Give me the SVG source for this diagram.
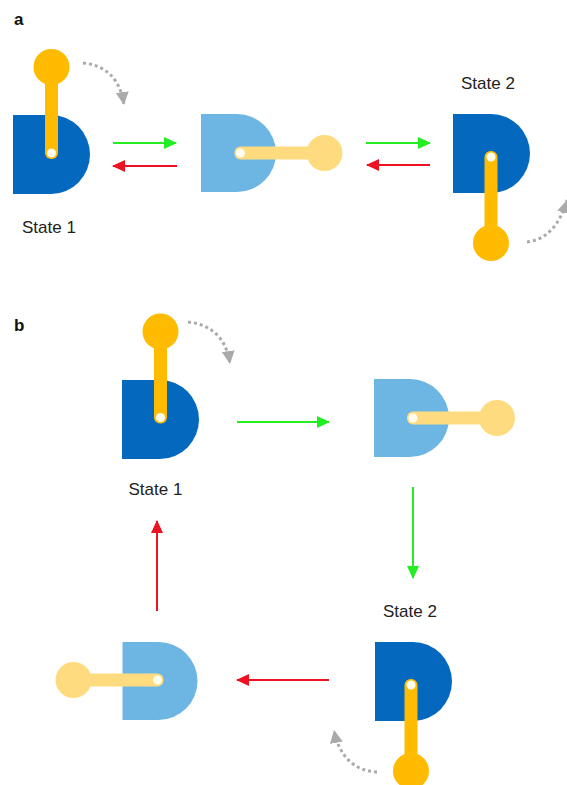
<svg xmlns="http://www.w3.org/2000/svg" width="567" height="785" viewBox="0 0 567 785">
<style>
text{font-family:"Liberation Sans",Arial,sans-serif;font-size:17px;fill:#222}
.p{font-weight:bold;font-size:17px;fill:#111}
.d{fill:#0468BF}.dl{fill:#6DB6E3}
.l{fill:#FFBB00}.ll{fill:#FFDB80}
.h{fill:#FFFDF0}
.g{stroke:#22EE22;stroke-width:2;fill:none}
.r{stroke:#EE1122;stroke-width:2;fill:none}
.y{stroke:#AAAAAA;stroke-width:3;stroke-dasharray:3 3;fill:none}
</style>
<defs>
<marker id="mg" markerUnits="userSpaceOnUse" markerWidth="13" markerHeight="13" refX="12" refY="6" orient="auto"><path d="M0 0L13 6L0 12Z" fill="#22EE22"/></marker>
<marker id="mr" markerUnits="userSpaceOnUse" markerWidth="13" markerHeight="13" refX="12" refY="6" orient="auto"><path d="M0 0L13 6L0 12Z" fill="#EE1122"/></marker>
<marker id="my" markerUnits="userSpaceOnUse" markerWidth="14" markerHeight="14" refX="13" refY="6.500" orient="auto"><path d="M0 0L13 6.500L0 13Z" fill="#AAAAAA"/></marker>
<path id="D" d="M0 0H38A39 39.500 0 0 1 38 79H0Z"/>
<path id="DL" d="M0 0H36A39 39 0 0 1 36 78H0Z"/>
<g id="up"><rect x="-6.500" y="-90" width="13" height="96" rx="6"/><circle cy="-86" r="18"/></g>
<g id="right"><rect x="-6" y="-6.500" width="90" height="13" rx="6"/><circle cx="84" r="18"/></g>
</defs>
<text class="p" x="14" y="25">a</text>
<text class="p" x="14" y="331">b</text>
<g id="connectors">
<path class="g" d="M113 143H176" marker-end="url(#mg)"/>
<path class="r" d="M177 166H113" marker-end="url(#mr)"/>
<path class="g" d="M366 143H430" marker-end="url(#mg)"/>
<path class="r" d="M430 165H367" marker-end="url(#mr)"/>
<path class="g" d="M237 422H329" marker-end="url(#mg)"/>
<path class="g" d="M413 487V578" marker-end="url(#mg)"/>
<path class="r" d="M329 680H237" marker-end="url(#mr)"/>
<path class="r" d="M157 611V521" marker-end="url(#mr)"/>
<path class="y" d="M83 63C103 65 120 76 124 105" marker-end="url(#my)"/>
<path class="y" d="M527 242C546 240 560 225 567 200" marker-end="url(#my)"/>
<path class="y" d="M188 322C208 324 226 335 230 364" marker-end="url(#my)"/>
<path class="y" d="M377 772C355 771 339 757 334 730" marker-end="url(#my)"/>
</g>
<g id="a-state1"><use href="#D" class="d" x="13" y="115"/><use href="#up" class="l" x="51.500" y="153"/><circle class="h" cx="51.500" cy="153" r="4.500"/><text x="22" y="232.500">State 1</text></g>
<g id="a-middle"><use href="#DL" class="dl" x="201" y="114"/><use href="#right" class="ll" x="240.500" y="153"/><circle class="h" cx="240.500" cy="153" r="4.500"/></g>
<g id="a-state2"><use href="#D" class="d" x="453" y="114"/><use href="#up" class="l" transform="translate(491 157) scale(1 -1)"/><circle class="h" cx="491" cy="157" r="4.500"/><text x="461" y="89">State 2</text></g>
<g id="b-state1"><use href="#D" class="d" x="122" y="380"/><use href="#up" class="l" x="160.500" y="417.500"/><circle class="h" cx="160.500" cy="417.500" r="4.500"/><text x="128.500" y="495">State 1</text></g>
<g id="b-right"><use href="#DL" class="dl" x="374" y="379"/><use href="#right" class="ll" x="413" y="418"/><circle class="h" cx="413" cy="418" r="4.500"/></g>
<g id="b-state2"><use href="#D" class="d" x="375" y="642"/><use href="#up" class="l" transform="translate(411 685) scale(1 -1)"/><circle class="h" cx="411" cy="685" r="4.500"/><text x="383" y="616.500">State 2</text></g>
<g id="b-left"><use href="#DL" class="dl" x="122.500" y="642"/><use href="#right" class="ll" transform="translate(157.500 680) scale(-1 1)"/><circle class="h" cx="157.500" cy="680" r="4.500"/></g>
</svg>
